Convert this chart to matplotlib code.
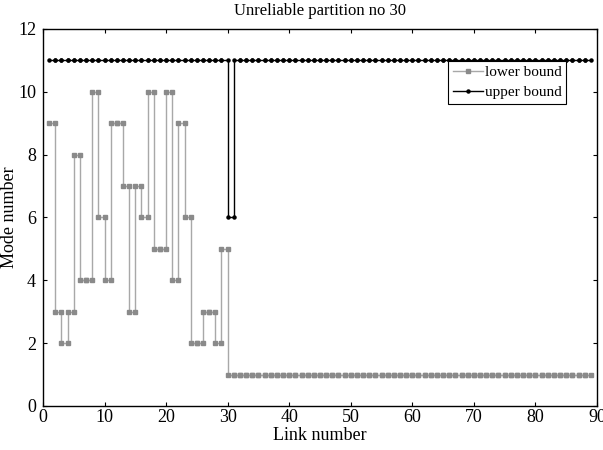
import matplotlib
matplotlib.use('Agg')
import matplotlib.pyplot as plt
import numpy as np

plt.rcParams['font.family'] = ['Liberation Serif', 'DejaVu Serif']

# mode number per link (each link spans [i, i+1])
links = np.arange(1, 89)
lower = [9, 3, 2, 3, 8, 4, 4, 10, 6, 4, 9, 9, 7, 3, 7, 6, 10, 5, 5, 10,
         4, 9, 6, 2, 2, 3, 3, 2, 5] + [1] * 59
upper = [11] * 29 + [6] + [11] * 58

xs = np.column_stack((links, links + 1)).ravel()
lo = np.repeat(lower, 2)
up = np.repeat(upper, 2)

fig = plt.figure(figsize=(6.03, 4.5), dpi=100)
ax = fig.add_axes([0.0713, 0.0978, 0.9187, 0.8378])

ax.plot(xs, lo, '-', color='#a8a8a8', lw=1.0, marker='s', ms=2.2,
        mfc='#8a8a8a', mec='#8a8a8a', label='lower bound')
ax.plot(xs, up, '-', color='black', lw=1.0, marker='o', ms=2.2,
        label='upper bound')

ax.set_xlim(0, 90)
ax.set_ylim(0, 12)
ax.set_xticks(np.arange(0, 91, 10))
ax.set_yticks(np.arange(0, 13, 2))
ax.tick_params(direction='in', top=True, right=True, length=3, labelsize=13)
ax.tick_params(axis='y', pad=5)
ax.tick_params(axis='x', pad=2)
for s in ax.spines.values():
    s.set_linewidth(1.0)

ax.set_title('Unreliable partition no 30', fontsize=12, pad=10)
ax.set_xlabel('Link number', fontsize=13, labelpad=1)
ax.set_ylabel('Mode number', fontsize=13, labelpad=0)

leg = ax.legend(loc='upper right', bbox_to_anchor=(0.944, 0.915),
                borderaxespad=0, fancybox=False, edgecolor='black',
                framealpha=1, fontsize=11, handlelength=2.0,
                handletextpad=0.1, labelspacing=0.4, borderpad=0.3)
leg.get_frame().set_linewidth(0.8)

fig.savefig('out.png', dpi=100)
